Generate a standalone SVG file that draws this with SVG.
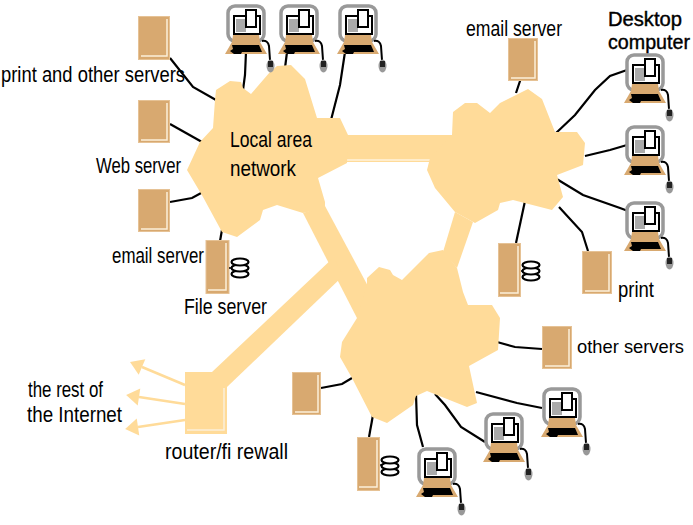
<svg xmlns="http://www.w3.org/2000/svg" xmlns:xlink="http://www.w3.org/1999/xlink" width="693" height="525" viewBox="0 0 693 525">
<style>
text{font-family:"Liberation Sans",Arial,sans-serif;font-size:22px;fill:#000}
.net{fill:#FFDB99}
.srv{fill:#D8A970;stroke:#E6C295;stroke-width:1}
.in{fill:none;stroke:#FBEFD9;stroke-width:1.5}
#connectors path{fill:none;stroke:#000;stroke-width:2.2}
.ext{stroke:#FFDB99;stroke-width:2.5;fill:none;marker-end:url(#head)}
</style>
<defs>
<marker id="head" markerUnits="userSpaceOnUse" markerWidth="16" markerHeight="20" refX="1" refY="10" orient="auto"><path d="M1 1.500L1 18.500L14 10Z" fill="#FFDB99"/></marker>
<g id="pc">
<rect x="2" y="2" width="36" height="35" rx="7" fill="#fff" stroke="#999" stroke-width="3.500"/>
<path d="M7 31H33L34 38L41 50H-1L6 38Z" fill="#D8A970"/>
<path d="M6 41H33L36 48H16L15 50H8L4 47L7 45Z" fill="#000"/>
<rect x="8" y="12" width="26" height="18" fill="#fff" stroke="#000" stroke-width="2"/>
<rect x="10" y="15" width="10" height="13" fill="#aaa"/>
<rect x="20" y="6" width="10" height="17" fill="#fff" stroke="#000" stroke-width="2"/>
<path d="M36 37Q42 36 43 42L44 56" fill="none" stroke="#000" stroke-width="2"/>
<ellipse cx="44.500" cy="62" rx="4" ry="6.500" fill="#999"/>
<rect x="42" y="57" width="5" height="6" fill="#222"/>
</g>
<g id="disk" fill="#fff" stroke="#000" stroke-width="2.200">
<ellipse cx="0" cy="12" rx="8.500" ry="3.500"/>
<ellipse cx="0" cy="6" rx="8.500" ry="3.500"/>
<ellipse cx="0" cy="0" rx="8.500" ry="3.500"/>
</g>
</defs>
<rect width="693" height="525" fill="#fff"/>

<g id="connectors">
<path d="M170 58L193 87L216 100"/>
<path d="M170 124L202 142"/>
<path d="M170 202L192 198L203 192"/>
<path d="M222 230L220 241"/>
<path d="M246 52L245 75L243 90"/>
<path d="M287 52L285 68"/>
<path d="M345 52L340 85L331 120"/>
<path d="M521 78L516 93"/>
<path d="M627 70L610 76L595 90L575 115L555 134"/>
<path d="M627 145L610 150L585 156"/>
<path d="M628 211L620 208L583 195L555 178"/>
<path d="M516 243L525 201"/>
<path d="M559 207L582 232L588 251"/>
<path d="M497 342L515 347L542 349"/>
<path d="M476 392L517 403L542 408"/>
<path d="M435 394L445 405L461 427L485 442"/>
<path d="M416 394L417 425L423 447"/>
<path d="M373 415L369 437"/>
<path d="M321 388L342 384L352 378"/>
</g>

<g id="external">
<path class="ext" d="M185 385L142 367"/>
<path class="ext" d="M185 404L139 397"/>
<path class="ext" d="M185 420L138 427"/>
</g>

<g id="links">
<path class="net" d="M340 135H452V162H340Z"/>
<path class="net" d="M303 213L325 206L369 288L358 320Z"/>
<path class="net" d="M212 372L334 257L343 276L227 387Z"/>
<path class="net" d="M455 212L473 222L457 268L443 252Z"/>
<path d="M345 160H430" stroke="#fff" stroke-width="1.200" fill="none"/>
</g>

<g id="lan">
<path class="net" d="M216 90L230 81L241 82L243 88L251 94L270 72L277 66L291 65L305 79L317 118L340 118L348 135L347 163L318 178L325 202L325 208L303 213L277 205L263 210L260 220L237 237L222 232L203 197L187 170L200 142L213 128L215 100Z"/>
<text x="230" y="147" textLength="82" lengthAdjust="spacingAndGlyphs">Local area</text>
<text x="230" y="176" textLength="66" lengthAdjust="spacingAndGlyphs">network</text>
</g>
<g id="wan">
<path class="net" d="M452 135L453 112L465 103L477 103L490 113L500 103L528 89L542 99L555 132L577 132L585 143L583 165L557 175L563 197L552 210L513 200L500 203L498 210L475 223L455 212L435 188L427 170L430 158Z"/>
</g>
<g id="core">
<path class="net" d="M357 318L367 285L367 278L379 267L390 270L393 275L402 280L429 253L443 250L457 268L463 292L468 305L492 305L500 318L498 350L469 366L477 403L467 407L427 391L416 396L413 405L387 423L372 417L352 378L340 357L342 342Z"/>
</g>

<g id="router">
<rect class="net" x="185" y="372" width="42" height="62"/>
<path class="in" d="M224 388V430H187"/>
<text x="165" y="459" textLength="123" lengthAdjust="spacingAndGlyphs">router/fi rewall</text>
</g>
<g id="internet-label">
<text x="28" y="397" textLength="75" lengthAdjust="spacingAndGlyphs">the rest of</text>
<text x="27" y="422" textLength="95" lengthAdjust="spacingAndGlyphs">the Internet</text>
</g>

<g id="server-print-other">
<rect class="srv" x="138.500" y="16.500" width="31" height="43"/><path class="in" d="M167 19V56H141"/>
<text x="1" y="82" textLength="184" lengthAdjust="spacingAndGlyphs">print and other servers</text>
</g>
<g id="server-web">
<rect class="srv" x="138.500" y="100.500" width="31" height="42"/><path class="in" d="M167 103V140H141"/>
<text x="96" y="173" textLength="85" lengthAdjust="spacingAndGlyphs">Web server</text>
</g>
<g id="server-email-1">
<rect class="srv" x="138.500" y="189.500" width="31" height="42"/><path class="in" d="M167 192V229H141"/>
<text x="112" y="263" textLength="92" lengthAdjust="spacingAndGlyphs">email server</text>
</g>
<g id="server-file-1">
<rect class="srv" x="206" y="240.500" width="23" height="53"/><path class="in" d="M226 243V290H208"/>
<path d="M229 268H232" stroke="#000" stroke-width="1.500"/>
<use xlink:href="#disk" href="#disk" x="240" y="262"/>
<text x="184" y="314" textLength="83" lengthAdjust="spacingAndGlyphs">File server</text>
</g>
<g id="server-email-2">
<rect class="srv" x="508.500" y="38.500" width="29" height="42"/><path class="in" d="M535 41V78H511"/>
<text x="466" y="36" textLength="96" lengthAdjust="spacingAndGlyphs">email server</text>
</g>
<g id="server-file-2">
<rect class="srv" x="498.500" y="243.500" width="22" height="53"/><path class="in" d="M518 246V293H500"/>
<path d="M521 271H524" stroke="#000" stroke-width="1.500"/>
<use xlink:href="#disk" href="#disk" x="531" y="265"/>
</g>
<g id="server-print">
<rect class="srv" x="582.500" y="251.500" width="29" height="42"/><path class="in" d="M609 254V291H585"/>
<text x="618" y="297" textLength="36" lengthAdjust="spacingAndGlyphs">print</text>
</g>
<g id="server-other">
<rect class="srv" x="542.500" y="326.500" width="29" height="42"/><path class="in" d="M569 329V366H545"/>
<text x="577" y="353" textLength="107" lengthAdjust="spacingAndGlyphs" style="font-size:19px">other servers</text>
</g>
<g id="server-left">
<rect class="srv" x="292.500" y="372.500" width="28" height="42"/><path class="in" d="M318 375V412H295"/>
</g>
<g id="server-file-3">
<rect class="srv" x="357.500" y="437.500" width="22" height="53"/><path class="in" d="M377 440V487H359"/>
<path d="M380 465H383" stroke="#000" stroke-width="1.500"/>
<use xlink:href="#disk" href="#disk" x="390" y="460"/>
</g>

<g id="pc-1"><use xlink:href="#pc" href="#pc" x="226" y="4"/></g>
<g id="pc-2"><use xlink:href="#pc" href="#pc" x="279" y="4"/></g>
<g id="pc-3"><use xlink:href="#pc" href="#pc" x="338" y="4"/></g>
<g id="pc-4"><use xlink:href="#pc" href="#pc" x="625" y="53"/>
<text x="608" y="26" textLength="74" lengthAdjust="spacingAndGlyphs" stroke="#000" stroke-width="0.400" style="font-size:20px">Desktop</text>
<text x="608" y="49" textLength="82" lengthAdjust="spacingAndGlyphs" stroke="#000" stroke-width="0.400" style="font-size:20px">computer</text>
</g>
<g id="pc-5"><use xlink:href="#pc" href="#pc" x="625" y="125"/></g>
<g id="pc-6"><use xlink:href="#pc" href="#pc" x="625" y="201"/></g>
<g id="pc-7"><use xlink:href="#pc" href="#pc" x="542" y="387"/></g>
<g id="pc-8"><use xlink:href="#pc" href="#pc" x="484" y="412"/></g>
<g id="pc-9"><use xlink:href="#pc" href="#pc" x="417" y="447"/></g>
</svg>
